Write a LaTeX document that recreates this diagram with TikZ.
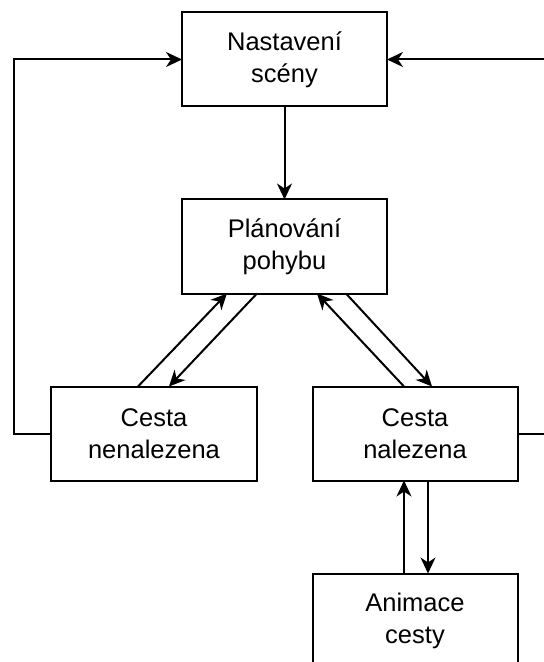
\documentclass[tikz,border=0pt]{standalone}
\usepackage{fontspec}
\setmainfont{Liberation Sans}
\usetikzlibrary{arrows.meta,positioning}
\tikzset{
  statebox/.style={rectangle, draw=black, line width=1pt, fill=white,
    minimum width=102.5pt, minimum height=47pt, outer sep=0pt,
    align=center, font=\fontsize{12.75}{16}\selectfont},
  flow/.style={-{Stealth[length=8pt,width=7.5pt,inset=2.5pt]}, line width=1pt, draw=black}
}
\begin{document}
\begin{tikzpicture}[node distance=46.5pt and 0pt]

  % --- frame of the page ---
  \useasboundingbox (-142.25pt,29.75pt) rectangle (129.75pt,-301.25pt);

  % --- states ---
  \node[statebox] (setup) {Nastavení\\scény};
  \node[statebox, below=of setup] (planning) {Plánování\\pohybu};
  \node[statebox, below=of planning, xshift=-65.25pt] (notfound) {Cesta\\nenalezena};
  \node[statebox, below=of planning, xshift=65.25pt] (found) {Cesta\\nalezena};
  \node[statebox, below=of found] (anim) {Animace\\cesty};

  % ---------------- edges ----------------
  \draw[flow] (setup) -- (planning);

  % planning <-> not found
  \draw[flow] ([xshift=-8pt]notfound.north) -- ([xshift=-28.75pt]planning.south);
  \draw[flow] ([xshift=-13.75pt]planning.south) -- ([xshift=7.5pt]notfound.north);

  % planning <-> found
  \draw[flow] ([xshift=-5.5pt]found.north) -- ([xshift=16.25pt]planning.south);
  \draw[flow] ([xshift=30.75pt]planning.south) -- ([xshift=8.5pt]found.north);

  % found <-> animation
  \draw[flow] ([xshift=-5.5pt]anim.north) -- ([xshift=-5.5pt]found.south);
  \draw[flow] ([xshift=6.5pt]found.south) -- ([xshift=6.5pt]anim.north);

  % back to the scene setup
  \draw[flow] (notfound.west) -- ++(-18.5pt,0) |- (setup.west);
  \draw[flow] (found.east) -- ++(21pt,0) |- (setup.east);

\end{tikzpicture}
\end{document}
